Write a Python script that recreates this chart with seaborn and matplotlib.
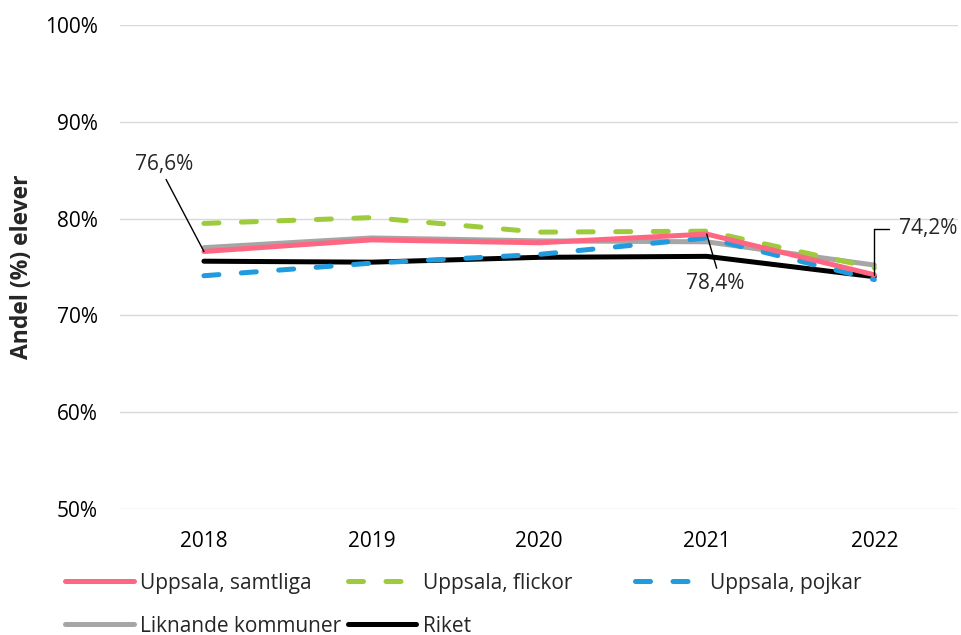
import pandas as pd
import matplotlib.pyplot as plt
import seaborn as sns

years = [2018, 2019, 2020, 2021, 2022]
samtliga = [76.6, 77.8, 77.5, 78.4, 74.2]
flickor = [79.5, 80.1, 78.6, 78.7, 74.9]
pojkar = [74.1, 75.4, 76.3, 78.0, 73.7]
liknande = [77.0, 78.0, 77.7, 77.6, 75.2]
riket = [75.6, 75.5, 76.0, 76.1, 74.0]

tick_values = [50, 60, 70, 80, 90, 100]
tick_labels = ["50%", "60%", "70%", "80%", "90%", "100%"]

FS = 15

sns.set_theme(style="white")
plt.rcParams['font.family'] = ['Open Sans', 'DejaVu Sans']

fig, ax = plt.subplots(figsize=(9.61, 6.35), dpi=100)
fig.subplots_adjust(left=0.125, right=0.997, top=0.961, bottom=0.198)

# draw order: background lines first, Uppsala total on top
series = [
    ("Liknande kommuner", liknande, "#A6A6A6", None),
    ("Riket", riket, "black", None),
    ("Uppsala, flickor", flickor, "#9DCB3B", (3, 4.5)),
    ("Uppsala, pojkar", pojkar, "#1F9BDE", (3, 4.5)),
    ("Uppsala, samtliga", samtliga, "#FF6681", None),
]
lines = {}
for name, vals, color, dash in series:
    df = pd.DataFrame({"year": years, "value": vals})
    sns.lineplot(data=df, x="year", y="value", ax=ax, color=color, lw=3.6, label=name)
    ln = ax.get_lines()[-1]
    if dash:
        ln.set_dashes(dash)
        ln.set_dash_capstyle("round")
    lines[name] = ln

ax.legend_.remove()

ax.set_xlim(2017.5, 2022.5)
ax.set_ylim(50, 100)
ax.set_xticks(years)
ax.set_xticklabels([str(y) for y in years])
ax.set_yticks(tick_values)
ax.set_yticklabels(tick_labels)
ax.tick_params(axis="both", length=0, labelsize=FS, colors="black")
ax.tick_params(axis="y", pad=16)
ax.tick_params(axis="x", pad=16)
ax.grid(axis="y", color="#D9D9D9", lw=1)
ax.set_axisbelow(True)
for s in ax.spines.values():
    s.set_visible(False)
ax.set_xlabel("")
ax.set_ylabel("Andel (%) elever", fontsize=16.5, fontweight="bold", labelpad=8)

lw_anno = dict(arrowstyle="-", color="black", lw=1, shrinkA=1, shrinkB=0)
ax.annotate("76,6%", xy=(years[0], samtliga[0]), xytext=(2017.76, 84.5),
            ha="center", va="bottom", fontsize=FS,
            arrowprops=dict(relpos=(0.5, 0), **lw_anno))
ax.annotate("78,4%", xy=(years[3], samtliga[3]), xytext=(2021.05, 74.4),
            ha="center", va="top", fontsize=FS,
            arrowprops=dict(relpos=(0.55, 1), **lw_anno))
ax.annotate("74,2%", xy=(years[4], samtliga[4]), xytext=(2022.15, 78.97),
            ha="left", va="center", fontsize=FS, annotation_clip=False,
            arrowprops=dict(relpos=(0, 0.5), connectionstyle="angle,angleA=0,angleB=90,rad=0",
                            arrowstyle="-", color="black", lw=1, shrinkA=5, shrinkB=0))

leg_kw = dict(loc="upper left", frameon=False, fontsize=FS, handlelength=3.3,
              handletextpad=0.3, columnspacing=0.3, labelspacing=1.05,
              borderpad=0, borderaxespad=0)
order = ["Uppsala, samtliga", "Liknande kommuner", "Uppsala, flickor", "Riket"]
fig.legend([lines[n] for n in order], order, bbox_to_anchor=(0.068, 0.098),
           ncol=2, **leg_kw)
fig.legend([lines["Uppsala, pojkar"]], ["Uppsala, pojkar"], bbox_to_anchor=(0.661, 0.098),
           ncol=1, **leg_kw)

fig.savefig("out.png", dpi=100)
